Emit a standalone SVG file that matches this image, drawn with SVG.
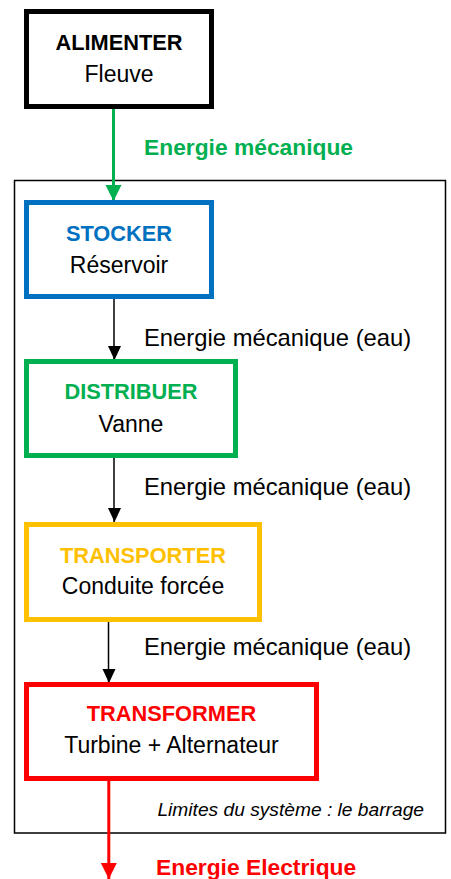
<svg xmlns="http://www.w3.org/2000/svg" width="451" height="879" viewBox="0 0 451 879">
<style>
.box{fill:#fff;stroke-width:5}
.t{font-family:"Liberation Sans",Arial,sans-serif;text-anchor:middle}
.title{font-weight:bold;font-size:21.8px}
.sub{font-size:23px;fill:#000}
.lbl{font-family:"Liberation Sans",Arial,sans-serif;font-size:23.8px;fill:#000}
.blbl{font-family:"Liberation Sans",Arial,sans-serif;font-size:22.8px;font-weight:bold}
.conn{fill:none}
</style>
<defs>
<marker id="ahK" markerUnits="userSpaceOnUse" markerWidth="14" markerHeight="16" refX="14" refY="7" orient="auto"><path d="M0,0 L14,6.5 L0,13 z" fill="#000"/></marker>
<marker id="ahG" markerUnits="userSpaceOnUse" markerWidth="17" markerHeight="17" refX="16" refY="8" orient="auto"><path d="M0,0 L16,8 L0,16 z" fill="#00B050"/></marker>
<marker id="ahR" markerUnits="userSpaceOnUse" markerWidth="17" markerHeight="17" refX="16" refY="8" orient="auto"><path d="M0,0 L16,8 L0,16 z" fill="#FF0000"/></marker>
</defs>
<rect width="451" height="879" fill="#fff"/>
<g id="boundary">
<rect x="14.5" y="180.5" width="431" height="652.5" fill="none" stroke="#000" stroke-width="1.5"/>
<text x="424" y="816" style="font-family:'Liberation Sans',Arial,sans-serif;font-size:19.2px;font-style:italic;text-anchor:end">Limites du système : le barrage</text>
</g>
<g id="connectors">
<line class="conn" x1="113.5" y1="109" x2="113.5" y2="201" stroke="#00B050" stroke-width="3" marker-end="url(#ahG)"/>
<line class="conn" x1="114" y1="299" x2="114" y2="360" stroke="#000" stroke-width="1.5" marker-end="url(#ahK)"/>
<line class="conn" x1="114" y1="458" x2="114" y2="522" stroke="#000" stroke-width="1.5" marker-end="url(#ahK)"/>
<line class="conn" x1="108.5" y1="622" x2="108.5" y2="683" stroke="#000" stroke-width="1.5" marker-end="url(#ahK)"/>
<line class="conn" x1="108.8" y1="781" x2="108.8" y2="879" stroke="#FF0000" stroke-width="3" marker-end="url(#ahR)"/>
<text class="blbl" x="144" y="155" fill="#00B050">Energie mécanique</text>
<text class="lbl" x="144" y="346">Energie mécanique (eau)</text>
<text class="lbl" x="144" y="495">Energie mécanique (eau)</text>
<text class="lbl" x="144" y="655">Energie mécanique (eau)</text>
<text class="blbl" x="156" y="875" fill="#FF0000">Energie Electrique</text>
</g>
<g id="alimenter">
<rect class="box" x="26.5" y="11.5" width="185" height="95" stroke="#000"/>
<text class="t title" x="119" y="50" fill="#000">ALIMENTER</text>
<text class="t sub" x="119" y="82">Fleuve</text>
</g>
<g id="stocker">
<rect class="box" x="26.5" y="202.5" width="185" height="94" stroke="#0070C0"/>
<text class="t title" x="119" y="241" fill="#0070C0">STOCKER</text>
<text class="t sub" x="119" y="273">Réservoir</text>
</g>
<g id="distribuer">
<rect class="box" x="26.5" y="361.5" width="209" height="94" stroke="#00B050"/>
<text class="t title" x="131" y="399" fill="#00B050">DISTRIBUER</text>
<text class="t sub" x="131" y="432">Vanne</text>
</g>
<g id="transporter">
<rect class="box" x="26.5" y="524.5" width="233" height="95" stroke="#FFC000"/>
<text class="t title" x="143" y="563" fill="#FFC000">TRANSPORTER</text>
<text class="t sub" x="143" y="594">Conduite forcée</text>
</g>
<g id="transformer">
<rect class="box" x="26.5" y="684.5" width="290" height="94" stroke="#FF0000"/>
<text class="t title" x="171.5" y="721" fill="#FF0000">TRANSFORMER</text>
<text class="t sub" x="171.5" y="753">Turbine + Alternateur</text>
</g>
</svg>
